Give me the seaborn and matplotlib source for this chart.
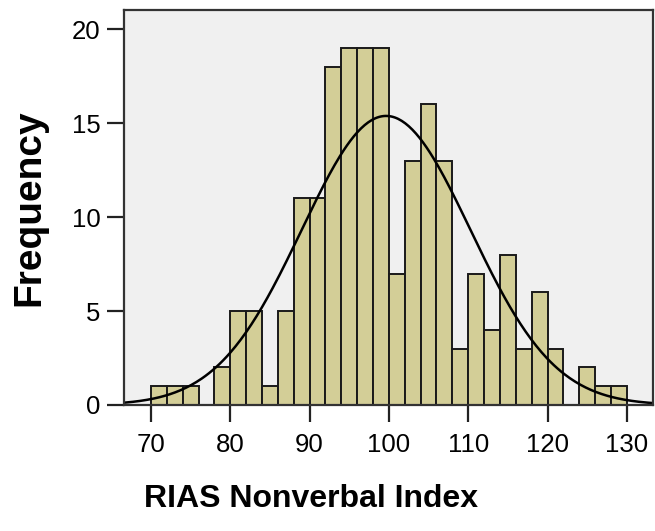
import numpy as np
import matplotlib
matplotlib.use("Agg")
import matplotlib.pyplot as plt
import seaborn as sns

# bin edges (width 2) and counts
bin_left = [70, 72, 74, 76, 78, 80, 82, 84, 86, 88, 90, 92, 94, 96, 98,
            100, 102, 104, 106, 108, 110, 112, 114, 116, 118, 120, 122, 124, 126, 128]
counts = [1, 1, 1, 0, 2, 5, 5, 1, 5, 11, 11, 18, 19, 19, 19,
          7, 13, 16, 13, 3, 7, 4, 8, 3, 6, 3, 0, 2, 1, 1]
x_ticks = [70, 80, 90, 100, 110, 120, 130]
y_ticks = [0, 5, 10, 15, 20]

bin_width = 2
edges = bin_left + [bin_left[-1] + bin_width]
mids = [b + bin_width / 2 for b in bin_left]

sns.set_theme(style="ticks", rc={"axes.facecolor": "#F0F0F0",
                                 "text.color": "black",
                                 "axes.labelcolor": "black",
                                 "xtick.color": "black",
                                 "ytick.color": "black"})
plt.rcParams["font.family"] = ["Liberation Sans", "DejaVu Sans"]

fig = plt.figure(figsize=(6.55, 5.31), dpi=100)
ax = fig.add_axes([124 / 655, 1 - 405 / 531, 529 / 655, 395 / 531])

sns.histplot(x=mids, weights=counts, bins=edges, color="#D3CE97", alpha=1,
             edgecolor="#1a1a1a", linewidth=1.4, ax=ax)

# fitted normal curve (SPSS style) from the binned data
w = np.array(counts, dtype=float)
m = np.array(mids, dtype=float)
n = w.sum()
mean = (w * m).sum() / n
sd = np.sqrt((w * (m - mean) ** 2).sum() / (n - 1))
xs = np.linspace(66.6, 133.3, 300)
ys = n * bin_width / (sd * np.sqrt(2 * np.pi)) * np.exp(-0.5 * ((xs - mean) / sd) ** 2)
sns.lineplot(x=xs, y=ys, color="black", linewidth=1.8, ax=ax)

ax.set_xlim(66.6, 133.3)
ax.set_ylim(0, 21.03)
ax.set_xticks(x_ticks)
ax.set_yticks(y_ticks)
ax.tick_params(length=12, width=1.6, color="#222222", labelsize=18.5, labelcolor="black")
ax.tick_params(axis="x", pad=8)
ax.tick_params(axis="y", pad=5)

for s in ax.spines.values():
    s.set_visible(True)
    s.set_color("#333333")
    s.set_linewidth(1.6)

ax.set_xlabel("RIAS Nonverbal Index", fontsize=23, fontweight="bold")
ax.set_ylabel("Frequency", fontsize=28, fontweight="bold")
ax.xaxis.set_label_coords(0.3526, -0.2)
ax.yaxis.set_label_coords(-0.145, 0.5)

fig.savefig("out.png", dpi=100, facecolor="white")
